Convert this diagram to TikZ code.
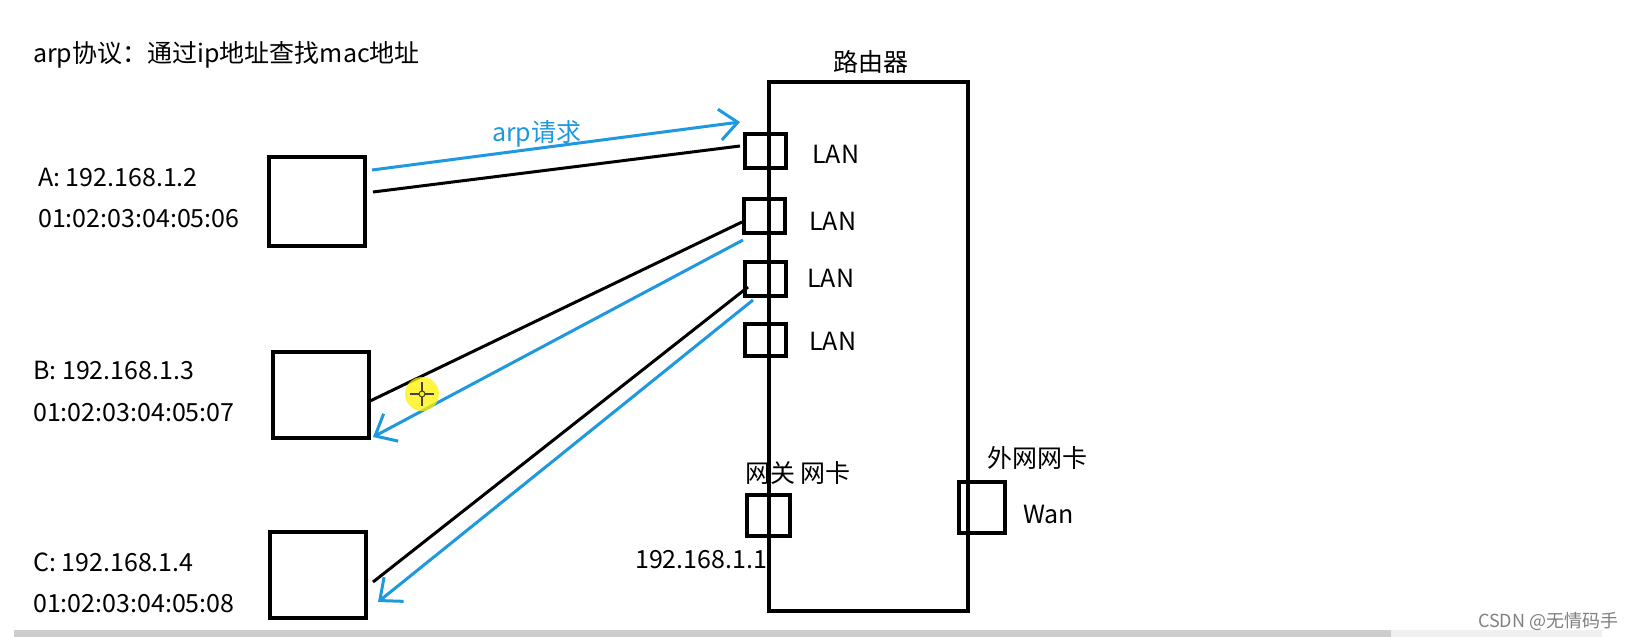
\documentclass[tikz,border=0pt]{standalone}
\usepackage{fontspec}
\setmainfont{Noto Sans CJK SC}
\usetikzlibrary{arrows.meta}
\definecolor{arpblue}{RGB}{30,152,222}
\definecolor{bargray}{RGB}{205,205,205}
\definecolor{barlight}{RGB}{240,240,240}
\tikzset{
  box/.style={draw=black, line width=4pt, minimum width=96pt, minimum height=87pt, inner sep=0pt},
  port/.style={draw=black, line width=4pt, inner sep=0pt, minimum width=41pt, minimum height=34pt},
  txt/.style={anchor=base west, inner sep=0pt, font=\fontsize{25}{29}\selectfont},
  wire/.style={draw=black, line width=3pt},
  req/.style={draw=arpblue, line width=3pt, -{Straight Barb[length=18pt,width=31pt,line width=3pt]}},
}
\begin{document}
\begin{tikzpicture}[x=1pt,y=-1pt]
\useasboundingbox (0,0) rectangle (1630,637);
\fill[white] (0,0) rectangle (1630,637);
% title
\node[txt] (title) at (33,62) {arp协议：通过ip地址查找mac地址};
% hosts
\node[box, minimum height=89pt] (A) at (317,201.5) {};
\node[box, minimum height=86pt] (B) at (321,395) {};
\node[box, minimum height=86pt] (C) at (318,575) {};
\node[txt] (Aip) at (38,186) {A: 192.168.1.2};
\node[txt] (Amac) at (38,227) {01:02:03:04:05:06};
\node[txt] (Bip) at (33,379) {B: 192.168.1.3};
\node[txt] (Bmac) at (33,421) {01:02:03:04:05:07};
\node[txt] (Cip) at (33,571) {C: 192.168.1.4};
\node[txt] (Cmac) at (33,612) {01:02:03:04:05:08};
% router
\node[draw=black, line width=4pt, minimum width=199pt, minimum height=529pt, inner sep=0pt] (R) at (868.5,346.5) {};
\node[txt, anchor=base] (Rlbl) at (871,71) {路由器};
\node[port] (L1) at (765,151) {};
\node[port] (L2) at (764.5,216) {};
\node[port] (L3) at (765,279) {};
\node[port, minimum height=32pt] (L4) at (765,340) {};
\node[txt] (L1t) at (812,163) {LAN};
\node[txt] (L2t) at (809,230) {LAN};
\node[txt] (L3t) at (807,287) {LAN};
\node[txt] (L4t) at (809,350) {LAN};
\node[port, minimum width=43pt, minimum height=41pt] (GW) at (768.5,515.5) {};
\node[txt] (GWt) at (745,482) {网关 网卡};
\node[txt] (GWip) at (635,568) {192.168.1.1};
\node[port, minimum width=46pt, minimum height=51pt] (WAN) at (982,507.5) {};
\node[txt] (WANt) at (987,467) {外网网卡};
\node[txt] (WANl) at (1023,523) {Wan};
% connector end points
\coordinate (aB) at (373,192);
\coordinate (aR) at (740,146);
\coordinate (aS) at (372,170);
\coordinate (aT) at (740,122);
\coordinate (bB) at (368,402);
\coordinate (bR) at (742,222);
\coordinate (bS) at (743,240);
\coordinate (bT) at (373,437);
\coordinate (cB) at (373,582);
\coordinate (cR) at (748,287);
\coordinate (cS) at (753,300);
\coordinate (cT) at (378,602);
% cables
\draw[wire] (aB) -- (aR);
\draw[wire] (bB) -- (bR);
\draw[wire] (cB) -- (cR);
% arp request / reply
\draw[req] (aS) -- (aT);
\node[txt, text=arpblue] (req) at (492,141) {arp请求};
\draw[req] (bS) -- (bT);
\draw[req] (cS) -- (cT);
% cursor highlight
\fill[yellow, opacity=0.75] (422,394) circle (17);
\draw[black!75, line width=1.5pt] (410,394) -- (434,394) (422,382) -- (422,406);
\draw[black!75, fill=yellow, line width=1pt] (422,394) circle (3);
% bottom scroll bar and watermark
\fill[bargray] (14,630) rectangle (1391,637);
\fill[barlight] (1391,630) rectangle (1602,637);
\node[txt, font=\fontsize{18}{22}\selectfont, text=black!50] (wm) at (1478,627) {CSDN @无情码手};
\end{tikzpicture}
\end{document}
